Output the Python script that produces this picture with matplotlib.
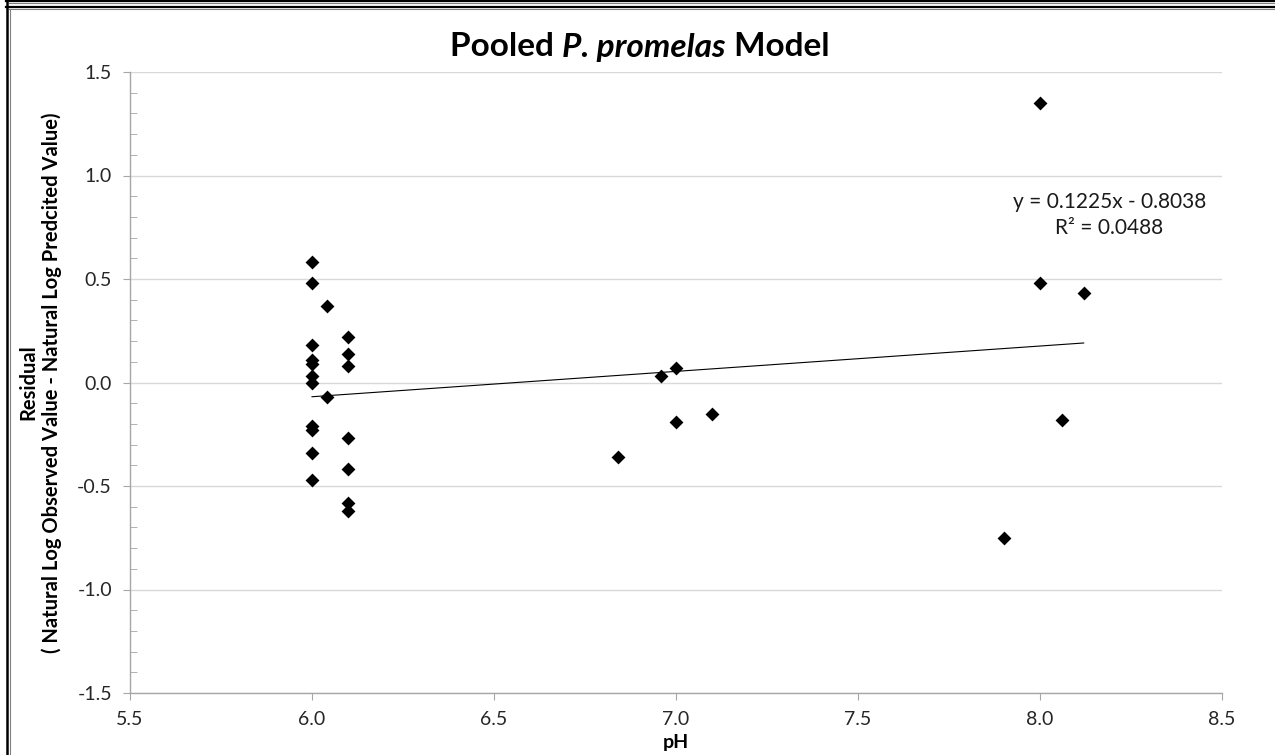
import matplotlib.pyplot as plt
import numpy as np
from matplotlib.lines import Line2D
from matplotlib.ticker import MultipleLocator

plt.rcParams["font.family"] = ["Lato", "DejaVu Sans"]

# residuals, grouped by pH
ph = [6.0, 6.0, 6.0, 6.0, 6.0, 6.0, 6.0, 6.0, 6.0, 6.0, 6.0,
      6.04, 6.04,
      6.1, 6.1, 6.1, 6.1, 6.1, 6.1, 6.1,
      6.84, 6.96, 7.0, 7.0, 7.1,
      7.9, 8.0, 8.0, 8.06, 8.12]
residual = [0.58, 0.48, 0.18, 0.11, 0.09, 0.03, 0.00, -0.21, -0.23, -0.34, -0.47,
            0.37, -0.07,
            0.22, 0.14, 0.08, -0.27, -0.42, -0.58, -0.62,
            -0.36, 0.03, 0.07, -0.19, -0.15,
            -0.75, 1.35, 0.48, -0.18, 0.43]

slope = 0.1225
intercept = -0.8038
r_squared = 0.0488

W, H = 1275, 755
fig = plt.figure(figsize=(W / 100, H / 100), dpi=100)
ax = fig.add_axes([130 / W, 1 - 693 / H, (1222 - 130) / W, (693 - 72) / H])

ax.scatter(ph, residual, marker="D", s=50, color="black", zorder=3, linewidths=0)

x_fit = np.array([min(ph), max(ph)])
ax.plot(x_fit, slope * x_fit + intercept, color="black", lw=0.8, zorder=2)

ax.text(8.19, 0.81, f"y = {slope}x - {abs(intercept)}\nR² = {r_squared}",
        ha="center", va="center", fontsize=15, linespacing=1.35, color="#1a1a1a")

ax.set_xlim(5.5, 8.5)
ax.set_ylim(-1.5, 1.5)
ax.xaxis.set_major_locator(MultipleLocator(0.5))
ax.yaxis.set_major_locator(MultipleLocator(0.5))
ax.yaxis.set_minor_locator(MultipleLocator(0.1))
ax.xaxis.set_major_formatter(plt.FormatStrFormatter("%.1f"))
ax.yaxis.set_major_formatter(plt.FormatStrFormatter("%.1f"))

axis_gray = "#a6a6a6"
ax.grid(axis="y", which="major", color="#d9d9d9", lw=1)
ax.set_axisbelow(True)
for side in ["top", "right"]:
    ax.spines[side].set_visible(False)
for side in ["left", "bottom"]:
    ax.spines[side].set_color(axis_gray)
    ax.spines[side].set_linewidth(1)
ax.tick_params(which="major", direction="out", length=5, color=axis_gray,
               labelsize=14, labelcolor="#262626")
ax.tick_params(axis="y", which="minor", direction="in", length=5, color=axis_gray)
ax.tick_params(axis="y", which="major", pad=8)
ax.tick_params(axis="x", which="major", pad=8)

ax.set_xlabel("pH", fontsize=14, fontweight="bold", labelpad=4)
ax.set_ylabel("Residual\n( Natural Log Observed Value - Natural Log Predcited Value)",
              fontsize=14.5, fontweight="bold", labelpad=11, linespacing=1.15)

# title in three pieces so the species name can be bold italic
renderer = fig.canvas.get_renderer()
parts = [("Pooled ", "normal"), ("P. promelas", "italic"), (" Model", "normal")]
pieces = []
for s, style in parts:
    t = fig.text(0, 1 - 47 / H, s, ha="left", va="center", fontsize=24,
                 fontweight="bold", fontstyle=style)
    pieces.append(t)
widths = [t.get_window_extent(renderer).width for t in pieces]
x = 640 - sum(widths) / 2
for t, w in zip(pieces, widths):
    t.set_x(x / W)
    x += w


# frame lines, in pixel coordinates
def _hline(y, x0, color, lw):
    fig.add_artist(Line2D([x0 / W, 1], [1 - y / H, 1 - y / H], color=color, lw=lw))


def _vline(x, y0, color, lw):
    fig.add_artist(Line2D([x / W, x / W], [1 - y0 / H, 0], color=color, lw=lw))


_hline(0.8, 6, "black", 1.6)
_hline(2.8, 9, "#808080", 0.8)
_hline(6.5, 6, "black", 1.6)
_hline(9.0, 9, "#808080", 0.8)
_vline(6.8, 0, "black", 1.8)
_vline(9.5, 9, "#808080", 0.8)

fig.savefig("out.png", dpi=100)
